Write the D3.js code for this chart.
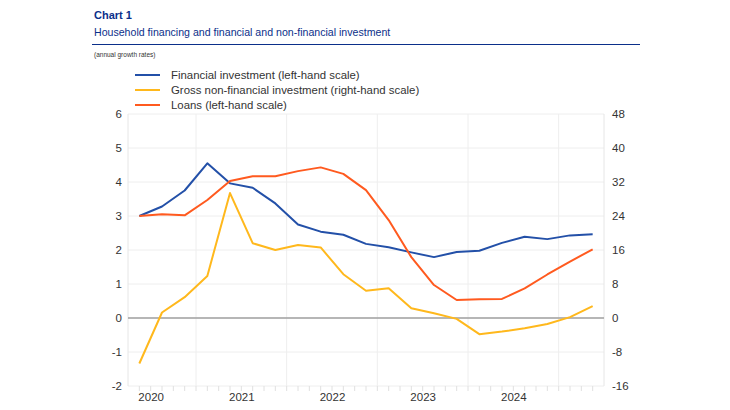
<!DOCTYPE html>
<html>
<head>
<meta charset="utf-8">
<script src="https://cdn.jsdelivr.net/npm/d3@7"></script>
<style>
  body { margin: 0; background: #fff; }
  svg text { font-family: "Liberation Sans", Arial, sans-serif; }
</style>
</head>
<body>
<div id="chart"></div>
<script>
    // quarters from 2020Q2 to 2025Q2
    const quarters = ["2020Q2", "2020Q3", "2020Q4", "2021Q1", "2021Q2", "2021Q3", "2021Q4",
        "2022Q1", "2022Q2", "2022Q3", "2022Q4", "2023Q1", "2023Q2", "2023Q3", "2023Q4",
        "2024Q1", "2024Q2", "2024Q3", "2024Q4", "2025Q1", "2025Q2"];

    // left-hand scale
    const financialInvestment = [3.0, 3.28, 3.75, 4.55, 3.96, 3.83, 3.37, 2.75, 2.54, 2.45, 2.18,
        2.08, 1.93, 1.79, 1.94, 1.98, 2.21, 2.39, 2.32, 2.43, 2.46];
    const loans = [3.0, 3.05, 3.02, 3.47, 4.03, 4.17, 4.17, 4.32, 4.43, 4.24, 3.76,
        2.88, 1.79, 0.97, 0.53, 0.55, 0.56, 0.87, 1.28, 1.66, 2.02];
    // right-hand scale
    const grossNonFinancial = [-10.7, 1.3, 4.9, 9.9, 29.4, 17.6, 16.0, 17.2, 16.6, 10.3, 6.4,
        7.0, 2.3, 1.1, -0.2, -3.8, -3.2, -2.4, -1.4, 0.2, 2.8];

    const leftTicks = [-2, -1, 0, 1, 2, 3, 4, 5, 6];
    const rightTicks = [-16, -8, 0, 8, 16, 24, 32, 40, 48];
    const yearLabels = [2020, 2021, 2022, 2023, 2024];

    const series = [
        { name: "Financial investment (left-hand scale)", values: financialInvestment, color: "#2350a8", axis: "left" },
        { name: "Gross non-financial investment (right-hand scale)", values: grossNonFinancial, color: "#ffb81c", axis: "right" },
        { name: "Loans (left-hand scale)", values: loans, color: "#ff5a1f", axis: "left" }
    ];

    const width = 730, height = 410;
    const plot = { left: 128, right: 604, top: 114, bottom: 386 };

    const svg = d3.select("#chart").append("svg")
        .attr("width", width)
        .attr("height", height);

    // quarter label -> fractional year at middle of quarter
    const qTime = q => +q.slice(0, 4) + (+q.slice(5) - 0.5) / 4;
    // plain hyphen for negatives, like the original
    const fmt = d => String(d);

    const x = d3.scaleLinear().domain([2020.25, 2025.5]).range([plot.left, plot.right]);
    const yL = d3.scaleLinear().domain([-2, 6]).range([plot.bottom, plot.top]);
    const yR = d3.scaleLinear().domain([-16, 48]).range([plot.bottom, plot.top]);

    // header
    svg.append("text").attr("x", 94).attr("y", 19)
        .attr("font-size", 11).attr("font-weight", "bold").attr("fill", "#0b2f8a")
        .text("Chart 1");
    svg.append("text").attr("x", 94).attr("y", 36)
        .attr("font-size", 10.6).attr("fill", "#0b2f8a")
        .text("Household financing and financial and non-financial investment");
    svg.append("line").attr("x1", 92).attr("x2", 640).attr("y1", 44.5).attr("y2", 44.5)
        .attr("stroke", "#0b2f8a").attr("stroke-width", 1);
    svg.append("text").attr("x", 94).attr("y", 57)
        .attr("font-size", 6.5).attr("fill", "#333")
        .text("(annual growth rates)");

    // legend
    const legend = svg.append("g");
    series.forEach((s, i) => {
        const ly = 75 + i * 15;
        legend.append("line").attr("x1", 135).attr("x2", 160).attr("y1", ly).attr("y2", ly)
            .attr("stroke", s.color).attr("stroke-width", 2);
        legend.append("text").attr("x", 171).attr("y", ly + 4)
            .attr("font-size", 11.4).attr("fill", "#333").text(s.name);
    });

    // grid
    const grid = svg.append("g");
    grid.selectAll(".hg").data(leftTicks).enter().append("line")
        .attr("x1", plot.left).attr("x2", plot.right)
        .attr("y1", d => yL(d)).attr("y2", d => yL(d))
        .attr("stroke", "#eeeeee").attr("stroke-width", 1);
    grid.selectAll(".vg").data([2021, 2022, 2023, 2024, 2025]).enter().append("line")
        .attr("x1", d => x(d)).attr("x2", d => x(d))
        .attr("y1", plot.top).attr("y2", plot.bottom)
        .attr("stroke", "#eeeeee").attr("stroke-width", 1);
    grid.append("line").attr("x1", plot.left).attr("x2", plot.left)
        .attr("y1", plot.top).attr("y2", plot.bottom).attr("stroke", "#e6e6e6");
    grid.append("line").attr("x1", plot.right).attr("x2", plot.right)
        .attr("y1", plot.top).attr("y2", plot.bottom).attr("stroke", "#e6e6e6");

    // small ticks under the x axis
    const minor = d3.range(2020.375, 2025.5, 0.125);
    svg.append("g").selectAll("line").data(minor).enter().append("line")
        .attr("x1", d => x(d)).attr("x2", d => x(d))
        .attr("y1", plot.bottom).attr("y2", plot.bottom + 5)
        .attr("stroke", "#e0e0e0");

    // left axis
    const leftAxis = svg.append("g").attr("transform", `translate(${plot.left - 6},0)`)
        .call(d3.axisLeft(yL).tickValues(leftTicks).tickFormat(fmt).tickSize(0).tickPadding(0));
    leftAxis.select(".domain").remove();
    leftAxis.selectAll("text").attr("font-size", 11.5).attr("fill", "#333")
        .attr("font-family", "Liberation Sans, Arial, sans-serif");

    // right axis
    const rightAxis = svg.append("g").attr("transform", `translate(${plot.right + 8},0)`)
        .call(d3.axisRight(yR).tickValues(rightTicks).tickFormat(fmt).tickSize(0).tickPadding(0));
    rightAxis.select(".domain").remove();
    rightAxis.selectAll("text").attr("font-size", 11.5).attr("fill", "#333")
        .attr("font-family", "Liberation Sans, Arial, sans-serif");

    // year labels
    const bottomAxis = svg.append("g").attr("transform", `translate(0,${plot.bottom + 7})`)
        .call(d3.axisBottom(x).tickValues(yearLabels.map(d => d + 0.5))
            .tickFormat((d, i) => yearLabels[i]).tickSize(0).tickPadding(0));
    bottomAxis.select(".domain").remove();
    bottomAxis.selectAll("text").attr("font-size", 11.5).attr("fill", "#333")
        .attr("font-family", "Liberation Sans, Arial, sans-serif");

    // zero line
    svg.append("line").attr("x1", plot.left).attr("x2", plot.right)
        .attr("y1", yL(0)).attr("y2", yL(0))
        .attr("stroke", "#a0a0a0").attr("stroke-width", 1.5);

    // lines (yellow first so others draw on top, as in the reference)
    const order = [1, 0, 2];
    order.forEach(k => {
        const s = series[k];
        const y = s.axis === "left" ? yL : yR;
        const line = d3.line()
            .x((d, i) => x(qTime(quarters[i])))
            .y(d => y(d));
        svg.append("path").datum(s.values)
            .attr("d", line)
            .attr("fill", "none")
            .attr("stroke", s.color)
            .attr("stroke-width", 2)
            .attr("stroke-linejoin", "round");
    });
</script>
</body>
</html>
